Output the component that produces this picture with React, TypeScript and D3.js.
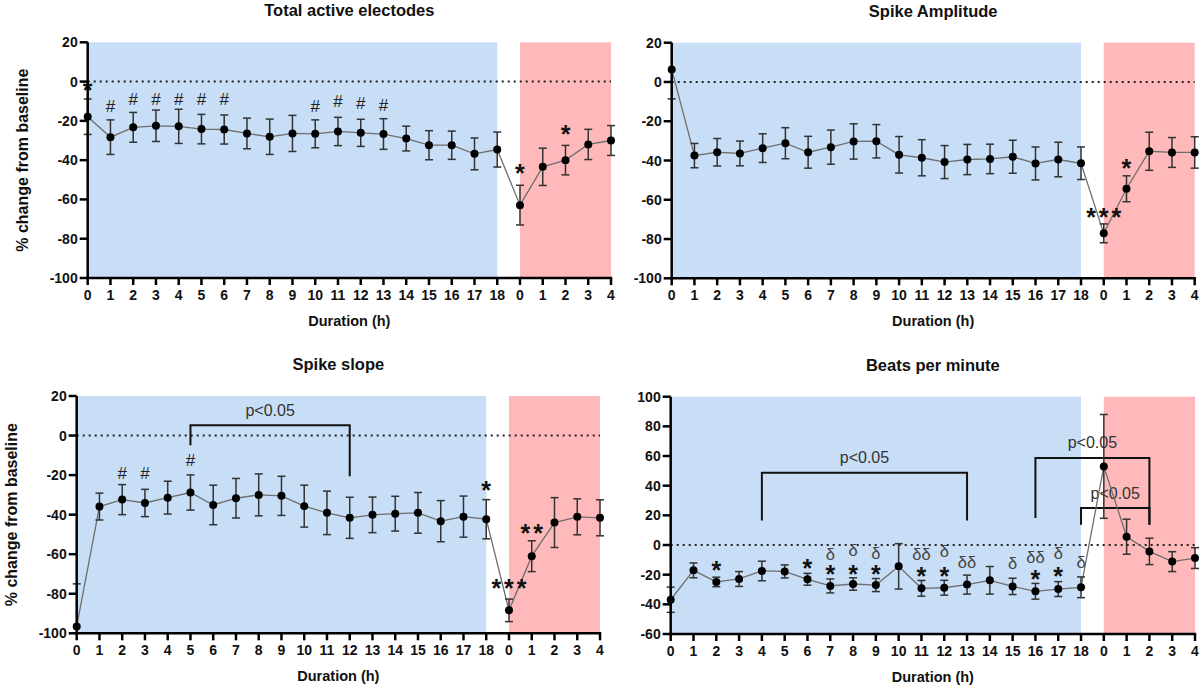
import React from "react";
import * as d3 from "d3";

// x categories: 0..18 h of treatment, then 0..4 h of washout
const xLabels = [
  "0", "1", "2", "3", "4", "5", "6", "7", "8", "9", "10", "11", "12", "13", "14", "15", "16", "17", "18",
  "0", "1", "2", "3", "4",
];
const preCount = 19;

const pctTicks = [-100, -80, -60, -40, -20, 0, 20];
const bpmTicks = [-60, -40, -20, 0, 20, 40, 60, 80, 100];

const activeMean = [-17.9, -28.3, -23.3, -22.5, -22.8, -24.2, -24.4, -26.4, -28.1, -26.4, -26.6, -25.4, -26.1, -26.7, -29, -32.4, -32.4, -36.8, -34.6, -62.9, -43.4, -40, -32, -30];
const activeErr = [9, 8.8, 7.6, 8, 8.7, 7.5, 7.4, 7.8, 9, 9.2, 7.1, 7.2, 6.9, 7.8, 6.3, 7.4, 7.2, 8.1, 8.9, 10.1, 9.5, 7.5, 7.7, 7.6];

const ampMean = [6.4, -37.5, -35.8, -36.4, -33.7, -31.2, -35.8, -33.2, -30.3, -30.2, -37.1, -38.6, -40.8, -39.5, -39.2, -38.1, -41.5, -39.5, -41.4, -77.1, -54.4, -35.3, -35.9, -35.9];
const ampErr = [15, 6.2, 7, 6.3, 7.3, 7.9, 8.1, 8.7, 9, 8.5, 9.3, 9.2, 8.4, 7.7, 7.5, 8.4, 8.4, 8.8, 8.3, 4.8, 6.6, 9.7, 7.6, 8];

const slopeMean = [-96.5, -35.9, -32.4, -34.1, -31.4, -28.8, -35.1, -31.7, -30, -30.5, -35.7, -39.1, -41.6, -40.1, -39.5, -39.1, -43.3, -41, -42.3, -88.4, -61, -44, -41.1, -41.6];
const slopeErr = [21.5, 6.8, 7.6, 6.9, 8.3, 8.9, 10, 10, 10.6, 9.9, 10.6, 11, 10.4, 9, 8.8, 10.3, 10.4, 10.4, 9.9, 5.7, 7.8, 12.6, 9.1, 9.1];

const bpmMean = [-36.9, -17.1, -24.9, -22.9, -17.5, -17.8, -23.1, -27.6, -26.3, -27, -14.4, -29.2, -28.8, -26.7, -23.8, -27.9, -31.2, -29.7, -28.5, 53, 5.6, -4.3, -11.2, -8.8];
const bpmErr = [8.5, 5, 3.2, 5, 6.6, 4.4, 4, 4.7, 4.2, 4.4, 15.3, 5.3, 5, 6.4, 9.3, 5.5, 5.3, 5, 7, 35, 11.8, 8.9, 6.7, 7];

// significance marks: category index, symbol, value level
const activeMarks = [
  { i: 0, t: "*", v: -1.7 },
  { i: 1, t: "#", v: -12.4 }, { i: 2, t: "#", v: -9 }, { i: 3, t: "#", v: -9 }, { i: 4, t: "#", v: -9 },
  { i: 5, t: "#", v: -9 }, { i: 6, t: "#", v: -9 },
  { i: 10, t: "#", v: -12.4 }, { i: 11, t: "#", v: -10 }, { i: 12, t: "#", v: -11 }, { i: 13, t: "#", v: -12 },
  { i: 19, t: "*", v: -43.8 }, { i: 21, t: "*", v: -23.8 },
];
const ampMarks = [
  { i: 19, t: "***", v: -65.9 },
  { i: 20, t: "*", v: -41 },
];
const slopeMarks = [
  { i: 2, t: "#", v: -18.9 }, { i: 3, t: "#", v: -18.9 }, { i: 5, t: "#", v: -12.5 },
  { i: 18, t: "*", v: -24.9 },
  { i: 19, t: "***", v: -74.2 },
  { i: 20, t: "**", v: -46.7 },
];
const bpmMarks = [
  { i: 2, t: "*", v: -13.2 }, { i: 6, t: "*", v: -12.1 }, { i: 7, t: "*", v: -15.9 }, { i: 8, t: "*", v: -15.9 },
  { i: 9, t: "*", v: -15.9 }, { i: 11, t: "*", v: -17.1 }, { i: 12, t: "*", v: -17.1 }, { i: 16, t: "*", v: -19.3 },
  { i: 17, t: "*", v: -17.1 },
  { i: 7, t: "δ", v: -5.8 }, { i: 8, t: "δ", v: -3.1 }, { i: 9, t: "δ", v: -5.1 }, { i: 11, t: "δδ", v: -5.8 },
  { i: 12, t: "δ", v: -3.6 }, { i: 13, t: "δδ", v: -11.4 }, { i: 15, t: "δ", v: -12.1 }, { i: 16, t: "δδ", v: -8.1 },
  { i: 17, t: "δ", v: -5.4 }, { i: 18, t: "δ", v: -11.4 },
];

// brackets: from index, to index, top level, left leg end, right leg end, label level
const slopeBrackets = [{ a: 5, b: 12, top: 5.2, la: -4.9, lb: -20.6, lv: 12.1 }];
const bpmBrackets = [
  { a: 4, b: 13, top: 48.8, la: 16.6, lb: 16.6, lv: 58.3 },
  { a: 16, b: 21, top: 58.7, la: 18.2, lb: 13.7, lv: 68 },
  { a: 18, b: 21, top: 25, la: 13.7, lb: 13.7, lv: 34 },
];

const panels = [
  { title: "Total active electodes", mean: activeMean, err: activeErr, marks: activeMarks, brackets: [], x0: 87.7, x1: 611, top: 42.3, bottom: 278, domain: [-100, 20], ticks: pctTicks, yLabel: true },
  { title: "Spike Amplitude", mean: ampMean, err: ampErr, marks: ampMarks, brackets: [], x0: 671.7, x1: 1194.7, top: 42.7, bottom: 278.3, domain: [-100, 20], ticks: pctTicks, yLabel: false },
  { title: "Spike slope", mean: slopeMean, err: slopeErr, marks: slopeMarks, brackets: slopeBrackets, x0: 76.7, x1: 600, top: 396, bottom: 633.3, domain: [-100, 20], ticks: pctTicks, yLabel: true },
  { title: "Beats per minute", mean: bpmMean, err: bpmErr, marks: bpmMarks, brackets: bpmBrackets, x0: 670.7, x1: 1195, top: 396.7, bottom: 634, domain: [-60, 100], ticks: bpmTicks, yLabel: false },
];

const FONT = "'Liberation Sans', Arial, sans-serif";
const BLUE = "#c8ddf6";
const PINK = "#ffb9ba";

function markStyle(t: string) {
  if (t.includes("*")) return { fs: 25, weight: "bold", fill: "#111", off: 0.58, ls: t.length > 1 ? 3 : 0 };
  if (t.includes("#")) return { fs: 17, weight: "normal", fill: "#222", off: 0.35, ls: 0 };
  if (t.includes("δ")) return { fs: 16.5, weight: "normal", fill: "#444", off: 0.38, ls: 0 };
  return { fs: 15, weight: "normal", fill: "#333", off: 0.25, ls: 0 };
}

const Panel = ({ p }: { p: any }) => {
  const x = d3.scaleLinear().domain([0, xLabels.length - 1]).range([p.x0, p.x1]);
  const y = d3.scaleLinear().domain(p.domain).range([p.bottom, p.top]);
  const [lo, hi] = p.domain;
  const line = d3
    .line<number>()
    .x((_, i) => x(i))
    .y((d) => y(d));
  const cx = (p.x0 + p.x1) / 2;

  return (
    <g fontFamily={FONT}>
      <rect x={p.x0} y={p.top} width={x(preCount - 1) - p.x0} height={p.bottom - p.top} fill={BLUE} />
      <rect x={x(preCount)} y={p.top} width={x(xLabels.length - 1) - x(preCount)} height={p.bottom - p.top} fill={PINK} />
      <line x1={p.x0} x2={p.x1} y1={y(0)} y2={y(0)} stroke="#222" strokeWidth={2} strokeDasharray="2 4" />

      {p.brackets.map((b: any, k: number) => (
        <g key={k}>
          <path
            d={`M${x(b.a)},${y(b.la)}V${y(b.top)}H${x(b.b)}V${y(b.lb)}`}
            fill="none"
            stroke="#111"
            strokeWidth={2}
          />
          <text x={(x(b.a) + x(b.b)) / 2} y={y(b.lv) + 16 * 0.25} fontSize={16} fill="#333" textAnchor="middle">
            p&lt;0.05
          </text>
        </g>
      ))}

      <path d={line(p.mean) || ""} fill="none" stroke="#6e6e6e" strokeWidth={1.3} />
      {p.mean.map((m: number, i: number) => {
        const up = Math.min(m + p.err[i], hi);
        const dn = Math.max(m - p.err[i], lo);
        return (
          <g key={i} stroke="#333" strokeWidth={1.5}>
            <line x1={x(i)} x2={x(i)} y1={y(up)} y2={y(dn)} />
            {up < hi && <line x1={x(i) - 4} x2={x(i) + 4} y1={y(up)} y2={y(up)} />}
            {dn > lo && <line x1={x(i) - 4} x2={x(i) + 4} y1={y(dn)} y2={y(dn)} />}
          </g>
        );
      })}
      {p.mean.map((m: number, i: number) => (
        <circle key={i} cx={x(i)} cy={y(m)} r={4} fill="#000" />
      ))}

      {p.marks.map((mk: any, k: number) => {
        const s = markStyle(mk.t);
        return (
          <text
            key={k}
            x={x(mk.i) + s.ls / 2}
            y={y(mk.v) + s.fs * s.off}
            fontSize={s.fs}
            fontWeight={s.weight}
            fill={s.fill}
            textAnchor="middle"
            letterSpacing={s.ls}
          >
            {mk.t}
          </text>
        );
      })}

      {/* axes */}
      <line x1={p.x0} x2={p.x0} y1={p.top} y2={p.bottom + 1.2} stroke="#000" strokeWidth={2.5} />
      <line x1={p.x0 - 1.2} x2={p.x1 + 1.2} y1={p.bottom} y2={p.bottom} stroke="#000" strokeWidth={2.5} />
      {p.ticks.map((t: number) => (
        <g key={t}>
          <line x1={p.x0 - 8} x2={p.x0} y1={y(t)} y2={y(t)} stroke="#000" strokeWidth={2.5} />
          <text x={p.x0 - 10} y={y(t) + 5} fontSize={14} fontWeight="bold" textAnchor="end" fill="#111">
            {t}
          </text>
        </g>
      ))}
      {xLabels.map((l, i) => (
        <g key={i}>
          <line x1={x(i)} x2={x(i)} y1={p.bottom} y2={p.bottom + 7} stroke="#000" strokeWidth={2.5} />
          <text x={x(i)} y={p.bottom + 22} fontSize={14} fontWeight="bold" textAnchor="middle" fill="#111">
            {l}
          </text>
        </g>
      ))}

      <text x={cx} y={p.bottom + 48} fontSize={14.5} fontWeight="bold" textAnchor="middle" fill="#111">
        Duration (h)
      </text>
      <text x={cx} y={p.top - 26} fontSize={16.5} fontWeight="bold" textAnchor="middle" fill="#111">
        {p.title}
      </text>
      {p.yLabel && (
        <text
          transform={`translate(${p.x0 - 60},${(p.top + p.bottom) / 2}) rotate(-90)`}
          fontSize={16}
          fontWeight="bold"
          textAnchor="middle"
          fill="#111"
        >
          % change from baseline
        </text>
      )}
    </g>
  );
};

export default function App() {
  return (
    <svg
      width={1201}
      height={685}
      style={{ position: "absolute", left: 0, top: 0, background: "#fff" }}
    >
      {panels.map((p, k) => (
        <Panel key={k} p={p} />
      ))}
    </svg>
  );
}
